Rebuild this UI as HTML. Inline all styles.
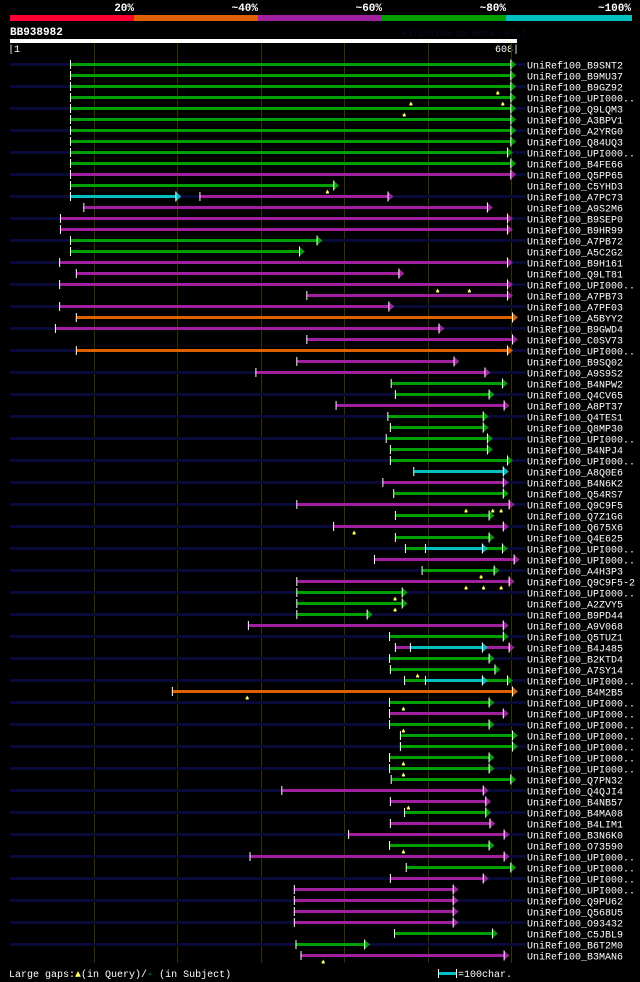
<!DOCTYPE html>
<html><head><meta charset="utf-8">
<style>
html,body{margin:0;padding:0;background:#000;width:640px;height:982px;overflow:hidden}
svg{display:block}
text{font-family:"Liberation Mono",monospace}
</style></head>
<body>
<svg id="chart" width="640" height="982" viewBox="0 0 640 982" xmlns="http://www.w3.org/2000/svg">
<g>
<rect x="10" y="15" width="124" height="6" fill="#ff0033"/>
<rect x="134" y="15" width="124" height="6" fill="#e06000"/>
<rect x="258" y="15" width="124" height="6" fill="#a020a0"/>
<rect x="382" y="15" width="124" height="6" fill="#00a000"/>
<rect x="506" y="15" width="126" height="6" fill="#00c0c0"/>
<g font-size="11" font-weight="bold" fill="#fff" text-anchor="end">
<text x="134" y="11">20%</text>
<text x="258" y="11">~40%</text>
<text x="382" y="11">~60%</text>
<text x="506" y="11">~80%</text>
<text x="631" y="11">~100%</text>
</g>
</g>
<text x="10" y="35" font-size="11" font-weight="bold" fill="#fff">BB938982</text>
<text x="402" y="36" font-size="9" fill="#0a0a2a">AlignView.pm Beta rel.7</text>
<rect x="10" y="39" width="507" height="4" fill="#fff"/>
<text x="8" y="52" font-size="10" fill="#fff">|1</text>
<text x="519" y="52" font-size="10" fill="#fff" text-anchor="end">608|</text>
<g id="grid"></g>
<g id="rows"></g>
<g>
<text x="9" y="977" font-size="10" fill="#fff">Large gaps:<tspan fill="#ffff60">▲</tspan>(in Query)/<tspan fill="#00c0c0">-</tspan> (in Subject)</text>
<rect x="439" y="972" width="17" height="3" fill="#00c0c0"/>
<rect x="438" y="969" width="1" height="9" fill="#fff"/>
<rect x="456" y="969" width="1" height="9" fill="#fff"/>
<text x="458" y="977" font-size="10" fill="#fff">=100char.</text>
</g>
</svg>
<script>
const names=["B9SNT2","B9MU37","B9GZ92","UPI000..","Q9LQM3","A3BPV1","A2YRG0","Q84UQ3","UPI000..","B4FE66","Q5PP65","C5YHD3","A7PC73","A9S2M6","B9SEP0","B9HR99","A7PB72","A5C2G2","B9H161","Q9LT81","UPI000..","A7PB73","A7PF03","A5BYY2","B9GWD4","C0SV73","UPI000..","B9SQ02","A9S9S2","B4NPW2","Q4CV65","A8PT37","Q4TES1","Q8MP30","UPI000..","B4NPJ4","UPI000..","A8Q0E6","B4N6K2","Q54RS7","Q9C9F5","Q7Z1G6","Q675X6","Q4E625","UPI000..","UPI000..","A4H3P3","Q9C9F5-2","UPI000..","A2ZVY5","B9PD44","A9V068","Q5TUZ1","B4J485","B2KTD4","A7SY14","UPI000..","B4M2B5","UPI000..","UPI000..","UPI000..","UPI000..","UPI000..","UPI000..","UPI000..","Q7PN32","Q4QJI4","B4NB57","B4MA08","B4LIM1","B3N6K0","O73590","UPI000..","UPI000..","UPI000..","UPI000..","Q9PU62","Q568U5","O93432","C5JBL9","B6T2M0","B3MAN6"];
const starts=[74,74,74,74,74,74,74,74,74,74,74,74,229,90,62,62,74,74,61,81,61,357,61,81,56,357,81,345,296,458,463,392,454,457,452,457,457,485,448,461,345,463,389,463,475,438,495,345,345,345,345,287,456,463,456,457,474,196,456,456,456,469,469,456,456,458,327,457,474,457,407,456,289,476,457,342,342,342,342,462,344,350];
const ends=[600,600,600,600,600,600,600,600,596,600,600,388,453,572,596,596,368,347,596,466,596,596,454,602,514,602,596,532,569,590,574,592,567,567,572,572,596,591,591,591,598,574,591,574,590,604,580,598,470,470,428,591,591,598,574,581,596,602,574,591,574,602,602,574,574,600,567,570,570,575,592,574,592,600,567,531,531,531,531,578,425,592];
const colors=["g","g","g","g","g","g","g","g","g","g","p","g","p","p","p","p","g","g","p","p",
"p","p","p","o","p","p","o","p","p","g","g","p","g","g","g","g","g","c","p","g",
"p","g","p","g","g","p","g","p","g","g","g","p","g","p","g","g","g","o","g","p",
"g","g","g","g","g","g","p","p","g","p","p","g","p","g","p","p","p","p","p","g",
"g","p"];
const extraRow=[13,45,54,57];
const extraStart=[74,499,481,499];
const extraEnd=[199,566,566,566];
const extraColor=["c","c","c","c"];
const gapRow=[3,4,4,5,12,21,21,41,41,41,43,47,48,48,48,49,50,56,58,59,61,64,65,68,72,82];
const gapPos=[585,481,591,473,381,513,551,547,579,589,413,565,547,568,589,462,462,489,285,472,472,472,472,478,472,376];
const gridTicks=[101,201,301,401,501,601];

const palette={g:"#00a000",p:"#a020a0",o:"#e06000",c:"#00c0c0",r:"#ff0033"};
const NS="http://www.w3.org/2000/svg";
function xs(u){return 10+(u-1)*(507/607);}
function ys(i){return 64.5+11*i;}
function mk(tag,attrs,parent){const e=document.createElementNS(NS,tag);for(const k in attrs)e.setAttribute(k,attrs[k]);parent.appendChild(e);return e;}
const grid=document.getElementById("grid");
gridTicks.forEach(t=>{
  const l=mk("rect",{x:Math.round(xs(t)),y:43,width:1,height:920,fill:"#333300"},grid);
  
  
});
const rows=document.getElementById("rows");
function segment(g,s,e,y,col){
  const x0=xs(s),x1=xs(e);
  const b=mk("rect",{x:x0,y:y-1.5,width:Math.max(1,x1-x0),height:3,fill:palette[col]},g);
  
  
  const t=mk("rect",{x:x0-1,y:y-4.5,width:1,height:9,fill:"#fff"},g);
  
  
  const a=mk("polygon",{points:`${x1},${y-5} ${x1+6},${y} ${x1},${y+5}`,fill:palette[col]},g);
  
  
  const ab=mk("rect",{x:x1,y:y-5,width:1,height:10,fill:"#fff"},g);
  
  
}
names.forEach((n,i)=>{
  const y=ys(i);
  const g=mk("g",{},rows);
  
  
  if(i%2===0){
    const bg=mk("rect",{x:10,y:y-1.5,width:516,height:3,fill:"#0a0a38"},g);
    
    
  }
  segment(g,starts[i],ends[i],y,colors[i]);
  extraRow.forEach((r,k)=>{ if(r===i+1) segment(g,extraStart[k],extraEnd[k],y,extraColor[k]); });
  gapRow.forEach((r,k)=>{
    if(r===i+1){
      const gx=xs(gapPos[k]);
      const m=mk("polygon",{points:`${gx-1.5},${y+7} ${gx},${y+4} ${gx+1.5},${y+7}`,fill:"#ffff60"},g);
      
      
      const m2=mk("rect",{x:gx-1.5,y:y+6,width:3,height:2,fill:"#ffff60"},g);
      
      
    }
  });
  const tx=mk("text",{x:527,y:y+4,"font-size":"10",fill:"#fff"},g);
  tx.textContent="UniRef100_"+n;
  
  
});
</script>
</body></html>
